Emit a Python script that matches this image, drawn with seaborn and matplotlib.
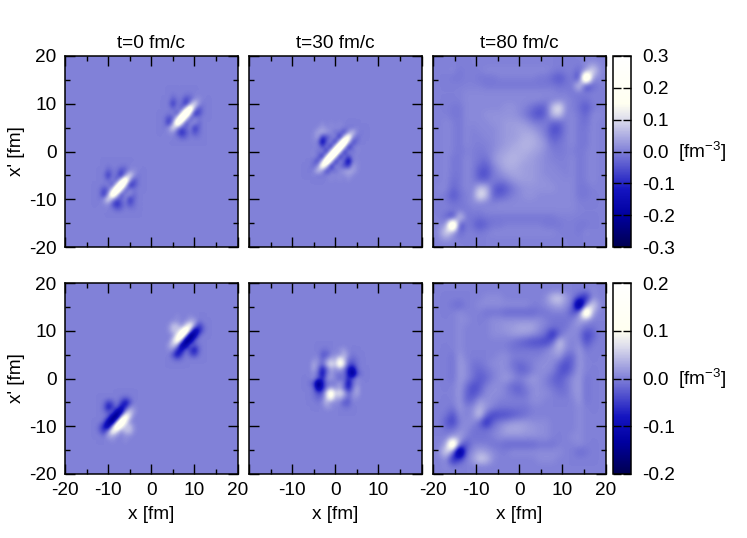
import numpy as np
import matplotlib
matplotlib.use('Agg')
import matplotlib.pyplot as plt
from matplotlib.colors import LinearSegmentedColormap
from matplotlib.ticker import FixedLocator
import seaborn as sns

# all density values are in units of 0.01 fm^-3, rows run from top (large x') to bottom

titles = ['t=0 fm/c', 't=30 fm/c', 't=80 fm/c']
ticks_major = [-20, -10, 0, 10, 20]
ticks_minor = [-15, -5, 5, 15]
cbar_top = [-0.3, -0.2, -0.1, 0.0, 0.1, 0.2, 0.3]
cbar_bot = [-0.2, -0.1, 0.0, 0.1, 0.2]

# wave packet at t=0, x and x' from 2 to 13 fm, 1 fm steps
blob_t0_top = [
    [0, 0, 0, 0, 0, 0, 0, 0, 0, 0, 0, 0],
    [0, 0, 0, -1, 0, 0, -1, -1, 0, 0, 0, 0],
    [0, 0, 0, -4, -1, -1, -6, -4, 1, 2, 0, 0],
    [0, 0, -1, -9, -1, -2, -11, 3, 12, 2, -1, 0],
    [0, 0, 0, -3, 1, -6, 11, 30, 3, -6, -1, 0],
    [0, 0, -1, 1, -7, 12, 36, 11, -11, -6, -1, 0],
    [0, -1, -6, -4, 11, 36, 12, -6, 1, -1, 0, 0],
    [0, -1, -10, 3, 30, 11, -7, 1, 2, -3, 0, 0],
    [0, -1, 2, 12, 3, -5, -3, 1, -9, -3, 0, 0],
    [0, 0, 1, 2, -5, -11, -5, -1, -6, -2, 0, 0],
    [0, 0, 0, 0, -1, -4, -3, 0, -1, -1, 0, 0],
    [0, 0, 0, 0, 0, 0, 0, 0, 0, 0, 0, 0],
]

blob_t0_bot = [
    [0, 0, 0, 0, 1, 0, 0, 1, 0, 0, 0, 0],
    [0, 0, 0, 1, 1, 0, 1, 3, 3, -1, 0, 0],
    [0, 0, 1, 5, 5, 1, 7, 12, 1, -6, -2, 0],
    [0, 0, 1, 5, 4, 11, 20, 3, -15, -8, -2, 0],
    [0, 0, 0, 1, 10, 20, 4, -20, -13, -2, 0, 0],
    [0, 0, 0, 6, 15, 4, -20, -15, -2, 0, 0, 0],
    [0, 0, 2, 6, 3, -15, -14, -1, -3, -1, 0, 0],
    [0, 0, 1, 1, -7, -10, -1, -5, -9, -2, 0, 0],
    [0, 0, 0, -4, -10, -4, 0, -3, -5, -1, 0, 0],
    [0, 0, 0, -1, -2, -1, 0, 0, 0, 0, 0, 0],
    [0, 0, 0, 0, 0, 0, 0, 0, 0, 0, 0, 0],
    [0, 0, 0, 0, 0, 0, 0, 0, 0, 0, 0, 0],
]

# t=30, x and x' from -7 to 7 fm
blob_t30_top = [
    [0, 0, 0, 0, 0, 0, 0, 0, 0, 0, 0, 0, 0, 0, 0],
    [0, 0, 0, 0, 1, 0, 1, 0, 1, 0, 0, 0, 0, 0, 0],
    [0, 0, 0, 1, 3, 1, 1, 1, 1, 0, -1, -1, 0, 0, 0],
    [0, 0, 1, 4, 5, 3, 1, -2, -1, -8, 2, 8, 1, -1, 0],
    [0, 0, 1, 4, -9, -6, -1, 2, -13, 9, 24, 2, -3, 0, 0],
    [0, 0, 1, -1, -18, -3, 2, -13, 12, 36, 9, -8, -2, 0, 0],
    [0, 0, 0, 1, -6, 1, -13, 13, 38, 12, -13, -1, 1, 0, 0],
    [0, 0, 1, -2, 2, -13, 13, 38, 13, -13, 2, -2, 1, 0, 0],
    [0, 0, 1, -1, -13, 12, 38, 13, -13, 1, -6, 1, 0, 0, 0],
    [0, 0, -2, -8, 9, 36, 12, -13, 2, -3, -18, -1, 1, 0, 0],
    [0, 0, -3, 2, 24, 9, -13, 2, -1, -6, -9, 4, 1, 0, 0],
    [0, -1, 1, 8, 2, -8, -1, -2, 1, 3, 5, 4, 1, 0, 0],
    [0, 0, 0, -1, -1, 0, 1, 1, 1, 1, 3, 1, 0, 0, 0],
    [0, 0, 0, 0, 0, 0, 1, 0, 1, 0, 1, 0, 0, 0, 0],
    [0, 0, 0, 0, 0, 0, 0, 0, 0, 0, 0, 0, 0, 0, 0],
]

blob_t30_bot = [
    [0, 0, 0, 0, 0, 0, 0, 0, 0, 0, 0, 0, 0, 0, 0],
    [0, 0, 0, 0, -1, -1, 0, 0, 1, 2, 0, 0, 0, 0, 0],
    [0, 0, 0, 0, -3, -3, 0, 1, 1, 4, 1, -1, 0, 0, 0],
    [0, 0, 1, 1, -2, 1, 4, 3, 10, 5, -1, -2, -1, 0, 0],
    [0, 0, 3, 1, -2, 4, 8, 5, 14, 7, -3, -4, -1, 0, 0],
    [0, 0, 3, -1, -8, -2, 3, 1, 3, 0, -8, -12, -2, 0, 0],
    [0, 0, 1, -2, -10, -1, 2, 0, -1, -1, -8, -18, -4, -1, 0],
    [0, 0, 1, -3, -7, 1, 2, 0, -2, -1, -7, -3, 1, 0, 0],
    [0, -1, -4, -20, -8, -1, -1, 0, 2, -1, -10, -2, 1, 0, 0],
    [0, 0, -2, -14, -8, 0, 3, 1, 3, -2, -8, -1, 3, 0, 0],
    [0, 0, -1, -4, -3, 7, 15, 6, 8, 4, -2, 1, 3, 0, 0],
    [0, 0, -1, -2, -1, 6, 12, 3, 4, 1, -2, 1, 1, 0, 0],
    [0, 0, 0, -1, 1, 4, 1, 1, 0, -3, -3, 0, 0, 0, 0],
    [0, 0, 0, 0, 0, 2, 1, 0, 0, -1, -1, 0, 0, 0, 0],
    [0, 0, 0, 0, 0, 0, 0, 0, 0, 0, 0, 0, 0, 0, 0],
]

# t=80 fills the whole box, 27 points over -20..20 fm
grid_t80_top = [
    [0, 0, 0, 0, 0, 0, 0, 0, 0, 0, 0, 0, 0, 0, 0, 0, 0, 0, 0, 0, 0, 0, 0, 0, 0, 0, 0],
    [0, 0, 0, 0, 0, 0, 0, 0, 0, 0, 0, 0, 0, 0, 0, 0, 0, 0, 0, 0, 0, 0, 0, 1, 2, 1, 0],
    [0, 0, 0, 1, -1, 0, 0, 0, 1, 1, 1, 1, 1, 1, 1, 1, 1, 1, 0, -1, 0, 0, -3, 2, 12, 2, 0],
    [0, 0, 0, -1, -1, 0, 0, -1, -1, -1, 0, 0, 0, 0, 0, 0, -1, -1, -3, -5, -2, 0, -10, 45, 2, 1, 0],
    [0, 0, 0, 0, 0, 0, 0, 0, -1, -1, -1, -1, -1, -1, -1, -1, -1, -1, -1, -2, -1, -1, 12, -10, -3, 0, 0],
    [0, 0, 0, 0, 0, 1, 1, 1, 1, 1, 1, 1, 1, 1, 1, 1, 1, 1, 1, 0, 0, -1, -1, 0, 0, 0, 0],
    [0, 0, 0, 0, 0, 1, 1, 1, 1, 1, 1, 1, 1, 1, 1, 1, 1, 0, 0, 1, 1, 0, -1, -2, 0, 0, 0],
    [0, 0, 0, -1, -1, 1, 1, 1, 1, 1, 1, 2, 2, 1, 0, -2, -4, -3, 8, 13, 1, 0, -2, -5, -1, 0, 0],
    [0, 0, 0, -1, -1, 1, 1, 1, 2, 2, 2, 2, 2, 1, -1, -4, -6, -3, 7, 8, 0, 1, -1, -3, 1, 1, 0],
    [0, 0, 1, 0, -1, 1, 1, 1, 1, 2, 2, 3, 3, 3, 2, 0, -1, 0, -3, -3, 0, 1, -1, -2, 1, 0, 0],
    [0, 0, 1, 0, -1, 1, 0, 1, 1, 1, 2, 3, 3, 4, 4, 3, 1, -1, -6, -5, 0, 1, -1, -1, 1, 0, 0],
    [0, 0, 1, 0, -1, 1, 0, 0, 1, 1, 2, 3, 3, 4, 5, 5, 3, 0, -4, -3, 0, 1, -1, -1, 1, 0, 0],
    [0, 0, 1, 0, -1, 1, 0, 0, 0, 1, 2, 3, 4, 5, 6, 5, 4, 2, -2, -1, 0, 1, -1, -1, 1, 0, 0],
    [0, 0, 1, 0, -1, 0, 0, -1, 0, 1, 3, 4, 5, 5, 5, 4, 3, 1, 0, -1, 0, 0, -1, 0, 1, 0, 0],
    [0, 0, 1, -1, -1, 1, 0, -1, -2, 2, 4, 5, 6, 5, 4, 3, 2, 1, 0, 0, 0, 1, -1, 0, 1, 0, 0],
    [0, 0, 1, -1, -1, 1, 0, -3, -4, 0, 3, 5, 5, 4, 3, 3, 2, 1, 1, 0, 0, 1, -1, 0, 1, 0, 0],
    [0, 0, 1, -1, -1, 1, 0, -5, -6, -1, 1, 3, 4, 4, 3, 3, 2, 1, 1, 1, 0, 1, -1, 0, 1, 0, 0],
    [0, 0, 1, -2, -1, 1, 0, -3, -3, 0, -1, 0, 2, 3, 3, 3, 2, 2, 1, 1, 1, 1, -1, 0, 1, 0, 0],
    [0, 1, 1, -3, -1, 1, 0, 8, 7, -3, -6, -4, -1, 1, 2, 2, 2, 2, 2, 1, 1, 1, -1, -1, 0, 0, 0],
    [0, 0, -1, -5, -2, 0, 1, 13, 8, -3, -4, -2, 0, 1, 2, 2, 1, 1, 1, 1, 1, 1, -1, -1, 0, 0, 0],
    [0, 0, 0, -2, -1, 0, 1, 1, 0, 0, 1, 1, 1, 1, 1, 1, 1, 1, 1, 1, 1, 1, 0, 0, 0, 0, 0],
    [0, 0, 0, 0, -1, -1, 0, 0, 1, 1, 1, 1, 1, 1, 1, 1, 1, 1, 1, 1, 1, 1, 0, 0, 0, 0, 0],
    [0, 0, -3, -10, 12, -1, -1, -2, -1, -1, -1, -1, -1, -1, -1, -1, -1, -1, -1, 0, 0, 0, 0, 0, 0, 0, 0],
    [0, 1, 2, 45, -10, 0, -2, -5, -3, -1, -1, 0, 0, 0, 0, 0, 0, -1, -1, -1, 0, 0, -1, -1, 0, 0, 0],
    [0, 2, 12, 2, -3, 0, 0, -1, 0, 1, 1, 1, 1, 1, 1, 1, 1, 1, 1, 0, 0, 0, -1, 1, 0, 0, 0],
    [0, 1, 2, 1, 0, 0, 0, 0, 0, 0, 0, 0, 0, 0, 0, 0, 0, 0, 0, 0, 0, 0, 0, 0, 0, 0, 0],
    [0, 0, 0, 0, 0, 0, 0, 0, 0, 0, 0, 0, 0, 0, 0, 0, 0, 0, 0, 0, 0, 0, 0, 0, 0, 0, 0],
]

grid_t80_bot = [
    [0, 0, 0, 0, 0, 0, 0, 0, 0, 0, 0, 0, 0, 0, 0, 0, 0, 0, 0, 0, 0, 0, 0, 0, 0, 0, 0],
    [0, 0, 0, 0, 0, 0, 0, 0, 0, 0, 0, 0, 0, 0, 0, 0, 0, 0, 0, 0, 0, 0, 0, 0, 1, 0, 0],
    [0, 0, 0, 0, 0, 0, 0, 0, 1, 1, 1, 0, 0, 0, 0, 0, 0, 1, 5, 6, 2, 0, -4, -8, 1, 0, 0],
    [0, 0, 0, -1, -2, 0, 0, 1, 1, 1, 1, 1, 1, 1, 1, 0, 0, 1, 2, 3, 1, -1, -24, 0, 8, 1, 0],
    [0, 0, 0, 0, 1, 0, 0, 0, -1, -1, -1, -2, -2, -2, -2, -2, -1, -1, 0, 0, 0, -4, 0, 24, 3, 0, 0],
    [0, 0, 0, 0, 1, 1, 0, 0, 0, 1, 1, 1, 1, 1, 1, 1, 1, 0, -1, -1, -1, 0, 3, 2, 0, 0, 0],
    [0, 0, 0, 0, 1, 0, 0, 0, 0, 1, 1, 2, 2, 3, 3, 3, 1, 0, -1, -1, -1, 1, 1, -1, -1, 0, 0],
    [0, 0, 0, 0, 1, 0, 0, 0, 0, 1, 1, 1, 2, 2, 2, 1, 0, -2, -8, -2, 1, 1, 0, -5, -3, 0, 0],
    [0, 0, 0, 0, 1, 0, 0, 0, 0, 0, 0, 0, -1, -2, -3, -4, -4, -5, -2, 6, 1, 0, 1, -4, -1, 0, 0],
    [0, 0, 0, 0, 1, 0, 0, 0, 0, 0, 0, 0, -1, -1, -1, -1, -1, 0, 2, 4, 1, 0, 2, -1, 0, 0, 0],
    [0, 0, 0, -1, 2, 0, 0, 0, 0, 0, 1, 1, 0, 0, 0, 0, 0, 1, 1, 2, -2, -2, 2, 0, 0, 0, 0],
    [0, 0, 0, -1, 2, 1, -1, -1, 0, 1, 1, 1, -1, -2, -1, 0, 1, 1, 1, -2, -4, -2, 2, 0, 0, 0, 0],
    [0, 0, 0, -1, 2, 1, -1, -2, -1, 0, 1, 1, 0, -2, -2, 0, 1, 1, 0, -3, -4, -1, 2, 0, 0, 0, 0],
    [0, 0, 0, -1, 2, 1, -1, -3, -2, 0, 1, 2, 1, 0, 1, 2, 1, 0, -2, -3, -1, 1, 2, -1, 0, 0, 0],
    [0, 0, 0, 0, 2, -1, -4, -3, 0, 1, 1, 0, -2, -2, 0, 1, 1, 0, -1, -2, -1, 1, 2, -1, 0, 0, 0],
    [0, 0, 0, 0, 2, -2, -4, -2, 1, 1, 1, 0, -1, -2, -1, 1, 1, 1, 0, -1, -1, 1, 2, -1, 0, 0, 0],
    [0, 0, 0, 0, 2, -2, -2, 2, 1, 1, 0, 0, 0, 0, 0, 1, 1, 0, 0, 0, 0, 0, 2, -1, 0, 0, 0],
    [0, 0, 0, -1, 2, 0, 1, 4, 2, 0, -1, -1, -1, -1, -1, 0, 0, 0, 0, 0, 0, 0, 1, 0, 0, 0, 0],
    [0, 0, -1, -4, 1, 0, 1, 6, -2, -5, -4, -4, -3, -2, -1, 0, 0, 0, 0, 0, 0, 0, 1, 0, 0, 0, 0],
    [0, 0, -3, -5, 0, 1, 1, -2, -8, -2, 0, 1, 2, 2, 2, 1, 1, 1, 0, 0, 0, 0, 1, 0, 0, 0, 0],
    [0, 0, -1, -1, 1, 1, -1, -1, -1, 0, 1, 3, 3, 3, 2, 2, 1, 1, 0, 0, 0, 0, 1, 0, 0, 0, 0],
    [0, 0, 0, 2, 3, 0, -1, -1, -1, 0, 1, 1, 1, 1, 1, 1, 1, 1, 0, 0, 0, 1, 1, 0, 0, 0, 0],
    [0, 0, 3, 24, 0, -4, 0, 0, 0, -1, -1, -2, -2, -2, -2, -2, -1, -1, -1, 0, 0, 0, 1, 0, 0, 0, 0],
    [0, 1, 8, 0, -24, -1, 1, 3, 2, 1, 0, 0, 1, 1, 1, 1, 1, 1, 1, 1, 0, 0, -2, -1, 0, 0, 0],
    [0, 0, 1, -8, -4, 0, 2, 6, 5, 1, 0, 0, 0, 0, 0, 0, 1, 1, 1, 0, 0, 0, 0, 0, 0, 0, 0],
    [0, 0, 1, 0, 0, 0, 0, 0, 0, 0, 0, 0, 0, 0, 0, 0, 0, 0, 0, 0, 0, 0, 0, 0, 0, 0, 0],
    [0, 0, 0, 0, 0, 0, 0, 0, 0, 0, 0, 0, 0, 0, 0, 0, 0, 0, 0, 0, 0, 0, 0, 0, 0, 0, 0],
]

W, H = 747, 538
plt.rcParams['font.family'] = ['Liberation Sans', 'DejaVu Sans']
plt.rcParams['mathtext.default'] = 'regular'
plt.rcParams['axes.unicode_minus'] = False
FS = 13.7

cmap = LinearSegmentedColormap.from_list('rho', [
    (0.0, '#000050'), (1 / 6, '#0000a0'), (0.30, '#1414c0'), (0.5, '#8080d8'),
    (2 / 3, '#dcdcec'), (0.75, '#fffff0'), (1.0, '#ffffff')], N=256)


def place(patch, x_left, xp_top, grid=None):
    # drop a patch on the empty 1 fm grid, background is exactly zero
    if grid is None:
        grid = np.zeros((41, 41))
    patch = np.asarray(patch, dtype=float)
    r = 20 - xp_top
    c = x_left + 20
    grid[r:r + patch.shape[0], c:c + patch.shape[1]] = patch
    return grid


def flip(patch):
    return np.asarray(patch)[::-1, ::-1]


panels = [
    [place(blob_t0_top, -13, -2, place(blob_t0_top, 2, 13)),
     place(blob_t30_top, -7, 7),
     np.array(grid_t80_top, dtype=float)],
    [place(flip(blob_t0_bot), -13, -2, place(blob_t0_bot, 2, 13)),
     place(blob_t30_bot, -7, 7),
     np.array(grid_t80_bot, dtype=float)],
]
limits = [0.3, 0.2]
cbar_ticks = [cbar_top, cbar_bot]
lefts = [65, 249, 433]
tops = [56, 283]
PW, PH = 172.5, 191


def px_axes(fig, l, t, w, h):
    return fig.add_axes([l / W, 1 - (t + h) / H, w / W, h / H])


fig = plt.figure(figsize=(W / 100, H / 100), dpi=100)

for row in range(2):
    for col in range(3):
        ax = px_axes(fig, lefts[col], tops[row], PW, PH)
        data = panels[row][col] * 0.01
        n = data.shape[0]
        if col == 2:
            cax = px_axes(fig, 613, tops[row], 18, PH)
            kw = {'cbar': True, 'cbar_ax': cax}
        else:
            kw = {'cbar': False}
        sns.heatmap(data, ax=ax, cmap=cmap, vmin=-limits[row], vmax=limits[row],
                    xticklabels=False, yticklabels=False, shading='gouraud', **kw)
        # same values again with display smoothing, like pm3d interpolate
        ax.imshow(data, cmap=cmap, vmin=-limits[row], vmax=limits[row], aspect='auto',
                  interpolation='bicubic', extent=(-0.5, n - 0.5, n - 0.5, -0.5), zorder=1.5)
        ax.set_xlim(0, n - 1)
        ax.set_ylim(n - 1, 0)

        # fm -> index on this grid
        sc = (n - 1) / 40
        ax.set_xticks([(t + 20) * sc for t in ticks_major])
        ax.set_xticks([(t + 20) * sc for t in ticks_minor], minor=True)
        ax.set_yticks([(20 - t) * sc for t in ticks_major])
        ax.set_yticks([(20 - t) * sc for t in ticks_minor], minor=True)
        ax.tick_params(which='major', direction='in', length=7, width=1, top=True, right=True,
                       left=True, bottom=True, labelsize=FS, pad=6,
                       labelbottom=row == 1, labelleft=col == 0)
        ax.tick_params(which='minor', direction='in', length=3.6, width=1, top=True, right=True,
                       left=True, bottom=True)
        if row == 1:
            labs = [str(t) for t in ticks_major]
            if col == 1:
                labs[0] = labs[-1] = ''
            ax.set_xticklabels(labs, rotation=0)
            ax.set_xlabel('x [fm]', fontsize=FS, labelpad=5)
        if col == 0:
            ax.set_yticklabels([str(t) for t in ticks_major], rotation=0)
            ax.set_ylabel("x' [fm]", fontsize=FS, labelpad=3)
        if row == 0:
            ax.set_title(titles[col], fontsize=FS, pad=6)
        for s in ax.spines.values():
            s.set_visible(True)
            s.set_linewidth(1.1)
            s.set_color('black')

        if col == 2:
            cb = ax.collections[0].colorbar
            cb.outline.set_linewidth(1.1)
            cb.outline.set_edgecolor('black')
            cax.yaxis.set_major_locator(FixedLocator(cbar_ticks[row]))
            cax.set_yticklabels(['%.1f' % v for v in cbar_ticks[row]])
            cax.tick_params(which='major', direction='in', length=6, width=1, left=True, right=True,
                            labelsize=FS, pad=8, color='black')
            cax.minorticks_off()
            cax.text(3.6, 0.5, '[fm$^{-3}$]', transform=cax.transAxes, fontsize=FS,
                     va='center', ha='left')

fig.savefig('out.png', dpi=100)
